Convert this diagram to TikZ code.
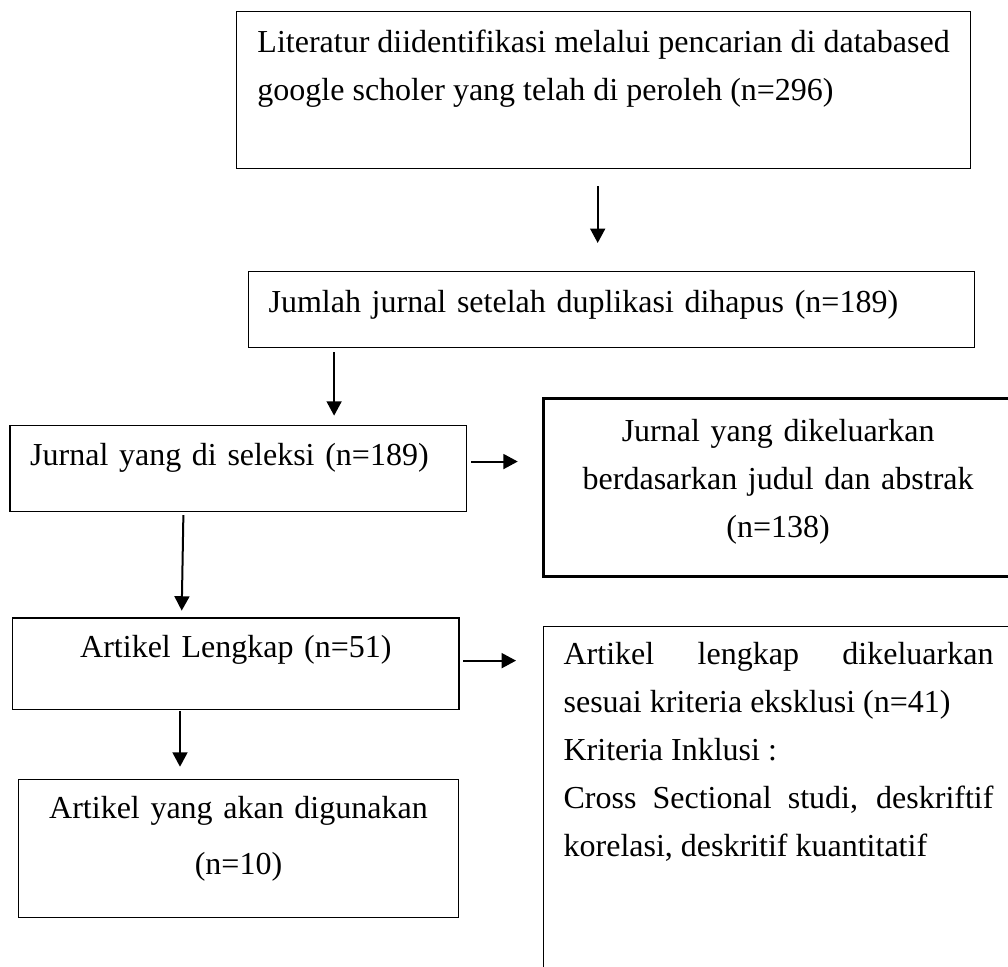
\documentclass[tikz,border=0pt]{standalone}
\usepackage{fontspec}
\setmainfont{Liberation Serif}
\usetikzlibrary{arrows.meta, positioning}

\begin{document}
\begin{tikzpicture}[
    x=0.375pt, y=-0.375pt,   % one unit = one pixel of the layout, y down
    >={Triangle[length=5.4pt, width=5.6pt]},
    font=\fontsize{12}{18}\selectfont,
    block/.style={
        draw,
        line width=0.5pt,
        anchor=north west,
        inner ysep=0pt,
        inner xsep=7.6pt
    },
    flow/.style={->, line width=0.75pt}
]

% page frame (right and lower boxes run past it)
\useasboundingbox (0,0) rectangle (1008,967);
\clip (0,0) rectangle (1008,967);

%------------------------------------
% MAIN COLUMN: SEARCH AND DUPLICATES
%------------------------------------

% 1) Literature found (no text width: baseline is the last line)
\node[block, inner xsep=0pt, minimum width=275.4pt,
      text height=33.5pt, text depth=25.5pt, align=left]
(found) at (235.7,10.7)
{Literatur diidentifikasi melalui pencarian di databased\\google scholer yang telah di peroleh (n=296)};

% 2) Duplicates removed
\node[block, text width=257.2pt, text height=15.4pt, text depth=13.1pt, align=left]
(dedup) at (247.7,270.7)
{Jumlah jurnal setelah duplikasi dihapus (n=189)};

%------------------------------------
% LEFT COLUMN: SCREENING
%------------------------------------

% 3) Screened
\node[block, text width=156.1pt, text height=15pt, text depth=17.1pt, align=left]
(screen) at (9.3,425)
{Jurnal yang di seleksi (n=189)};

% 4) Full text
\node[block, text width=152.2pt, text height=15pt, text depth=19.4pt, align=center]
(fulltext) at (12,617.3)
{Artikel Lengkap (n=51)};

% 5) Included
\node[block, text width=149.9pt, text height=14.7pt, text depth=36.9pt, align=center,
      font=\fontsize{12}{21}\selectfont]
(included) at (17.7,779)
{Artikel yang akan digunakan\\(n=10)};

%------------------------------------
% RIGHT COLUMN: EXCLUDED
%------------------------------------

% Excluded by title and abstract
\node[block, line width=1.1pt, text width=160.6pt, text height=16.1pt, text depth=50.6pt,
      align=center]
(excl_title) at (542.3,397)
{Jurnal yang dikeluarkan\\berdasarkan judul dan abstrak\\(n=138)};

% Excluded full text + criteria
\node[block, text width=161.2pt, text height=14.4pt, text depth=126pt, align=justify]
(excl_full) at (542.7,625.7)
{Artikel lengkap dikeluarkan\linebreak sesuai kriteria eksklusi (n=41)\par
 Kriteria Inklusi :\par
 Cross Sectional studi, deskriftif\linebreak korelasi, deskritif kuantitatif};

%------------------
% EDGES (ARROWS)
%------------------

% down the main column
\draw[flow, shorten <=6.4pt, shorten >=10.4pt]
    ([xshift=-2.2pt]found.south) -- ([xshift=-2.2pt]found.south |- dedup.north);
\draw[flow, shorten <=1.5pt, shorten >=3.5pt]
    ([xshift=32.4pt]dedup.south west) -- ([xshift=32.4pt]dedup.south west |- screen.north);

% down the left column
\draw[flow, shorten <=1.2pt, shorten >=2.5pt]
    ([xshift=65.3pt]screen.south west) -- ([xshift=63.6pt]fulltext.north west);
\draw[flow, shorten <=0.4pt, shorten >=4.6pt]
    ([xshift=63pt]fulltext.south west) -- ([xshift=63pt]fulltext.south west |- included.north);

% across to the excluded boxes
\draw[flow, shorten <=1.5pt, shorten >=9.2pt]
    ([yshift=2.6pt]screen.east) -- ([yshift=2.6pt]screen.east -| excl_title.west);
\draw[flow, shorten <=1.4pt, shorten >=10pt]
    ([yshift=1.2pt]fulltext.east) -- ([yshift=1.2pt]fulltext.east -| excl_full.west);

\end{tikzpicture}
\end{document}
